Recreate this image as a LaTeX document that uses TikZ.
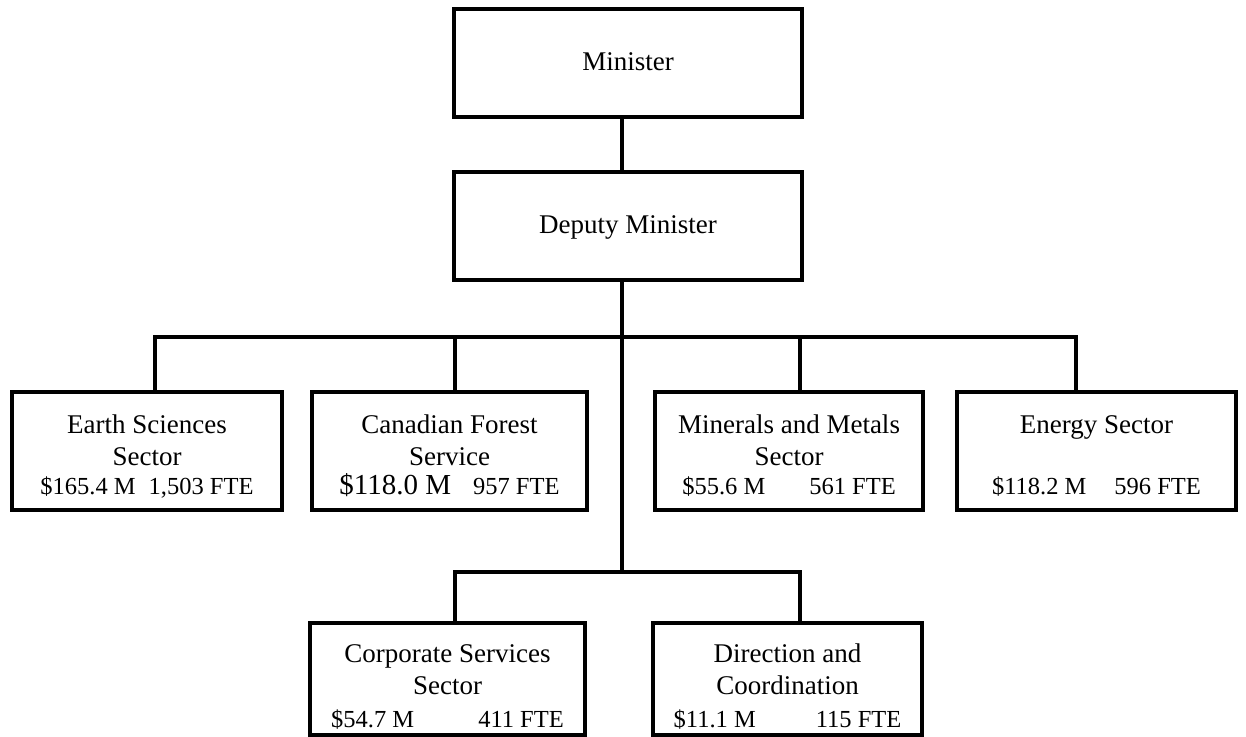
\documentclass[tikz,border=0pt]{standalone}
\usepackage{fontspec}
\setmainfont{Liberation Serif}
\usetikzlibrary{positioning}

\newcommand{\boxfont}{\fontsize{27}{32.5}\selectfont}
\newcommand{\amount}[1]{{\fontsize{24.5}{28}\selectfont #1}}

\tikzset{
  unit/.style={draw, line width=4.5pt, align=center, inner sep=0pt},
  head/.style={unit, minimum width=348pt, minimum height=108pt, text height=19pt, text depth=5pt},
  sector/.style={unit, minimum height=118pt, text height=100pt, text depth=14pt},
  staff/.style={unit, minimum height=112pt, text height=104pt, text depth=8pt},
  link/.style={line width=4.5pt},
}

\begin{document}
\begin{tikzpicture}[x=1pt, y=-1pt, font=\boxfont]
  \useasboundingbox (0,0) rectangle (1246,736);

  \node[head] (min) at (628,63) {Minister};
  \node[head] (dep) at (628,226) {Deputy Minister};

  % sectors
  \node[sector, minimum width=270pt] (ess) at (147,451) {Earth Sciences\\Sector\\[-4pt]\amount{\$165.4 M\hspace{13pt}1,503 FTE}};
  \node[sector, minimum width=275pt] (cfs) at (449.5,451) {Canadian Forest\\Service\\[-4pt]{\fontsize{29}{32}\selectfont\$118.0 M}\amount{\hspace{22pt}957 FTE}};
  \node[sector, minimum width=268pt] (mms) at (789,451) {Minerals and Metals\\Sector\\[-4pt]\amount{\$55.6 M\hspace{44pt}561 FTE}};
  \node[sector, minimum width=279pt] (es) at (1096.5,451) {Energy Sector\\[28.5pt]\amount{\$118.2 M\hspace{28pt}596 FTE}};

  \node[staff, minimum width=275pt] (css) at (447.5,679) {Corporate Services\\Sector\\\amount{\$54.7 M\hspace{64pt}411 FTE}};
  \node[staff, minimum width=269pt] (dac) at (787.5,679) {Direction and\\Coordination\\\amount{\$11.1 M\hspace{60pt}115 FTE}};

  \coordinate (bar) at (622,337);
  \coordinate (lowbar) at (622,572);

  \draw[link] ([xshift=-6pt]min.south) -- ([xshift=-6pt]dep.north);
  \draw[link] ([xshift=-6pt]dep.south) -- (lowbar);
  \draw[link] ([xshift=8pt]ess.north) |- (bar) -| ([xshift=-20.5pt]es.north);
  \draw[link] ([xshift=5.5pt]cfs.north) -- ([xshift=5.5pt]cfs.north |- bar);
  \draw[link] ([xshift=11pt]mms.north) -- ([xshift=11pt]mms.north |- bar);
  \draw[link] ([xshift=7.5pt]css.north) |- (lowbar) -| ([xshift=12.5pt]dac.north);
\end{tikzpicture}
\end{document}
